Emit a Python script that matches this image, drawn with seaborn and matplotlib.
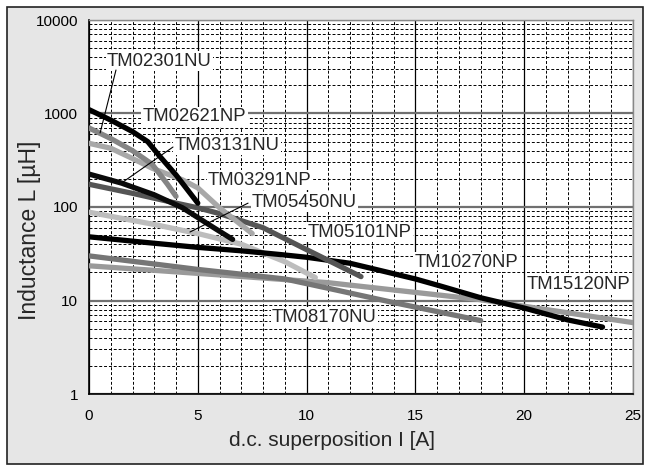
import numpy as np
import pandas as pd
import matplotlib
matplotlib.use("Agg")
import matplotlib.pyplot as plt
from matplotlib.ticker import MultipleLocator, LogLocator, FixedLocator, NullFormatter
from matplotlib.patches import Rectangle
import seaborn as sns

# ---- data ----
tm02621np_i = [0, 1, 2, 2.7, 3.2, 4, 5]
tm02621np_l = [1100, 850, 640, 500, 360, 220, 110]

tm02301nu_i = [0, 1, 2, 2.9, 3.6, 4.0]
tm02301nu_l = [700, 540, 400, 287, 176, 130]

tm03291np_i = [0, 1, 2, 2.9, 4.3, 5, 6, 7.5]
tm03291np_l = [480, 425, 330, 260, 195, 160, 98, 52]

tm03131nu_i = [0, 1.5, 3, 4.3, 5.5, 6.6]
tm03131nu_l = [225, 180, 135, 98, 65, 45]

tm05101np_i = [0, 2, 4, 5, 6, 8, 10, 12.5]
tm05101np_l = [175, 140, 110, 98, 85, 60, 35, 18]

tm05450nu_i = [0, 3, 5, 7, 9, 10.4]
tm05450nu_l = [88, 65, 52, 40, 26, 17.6]

tm10270np_i = [0, 2.5, 5, 7, 8.8, 10, 12, 13, 15, 16.1, 18, 20, 22, 23.6]
tm10270np_l = [48, 42, 37, 34, 31, 29, 25, 22, 17, 14.4, 10.7, 8.3, 6.2, 5.2]

tm08170nu_i = [0, 5, 9, 11, 14, 18]
tm08170nu_l = [30, 21.5, 17, 13.5, 9.5, 6.1]

tm15120np_i = [0, 5, 11, 16, 18, 20.7, 25]
tm15120np_l = [23.5, 19.5, 15.5, 11.5, 10.2, 8.2, 5.8]

series = {
    "TM15120NP": (tm15120np_i, tm15120np_l, "#9a9a9a"),
    "TM08170NU": (tm08170nu_i, tm08170nu_l, "#767676"),
    "TM05450NU": (tm05450nu_i, tm05450nu_l, "#bdbdbd"),
    "TM10270NP": (tm10270np_i, tm10270np_l, "#000000"),
    "TM05101NP": (tm05101np_i, tm05101np_l, "#555555"),
    "TM03131NU": (tm03131nu_i, tm03131nu_l, "#0a0a0a"),
    "TM03291NP": (tm03291np_i, tm03291np_l, "#a8a8a8"),
    "TM02301NU": (tm02301nu_i, tm02301nu_l, "#858585"),
    "TM02621NP": (tm02621np_i, tm02621np_l, "#000000"),
}

x_ticks = [0, 5, 10, 15, 20, 25]
y_ticks = [1, 10, 100, 1000, 10000]
y_ticklabels = ["1", "10", "100", "1000", "10000"]

rows = []
for name, (xs, ys, _) in series.items():
    for xv, yv in zip(xs, ys):
        rows.append({"series": name, "I": xv, "L": yv})
df = pd.DataFrame(rows)
palette = {k: v[2] for k, v in series.items()}

# ---- styling ----
sns.set_style("white")
plt.rcParams["font.family"] = ["Liberation Sans", "DejaVu Sans"]

fig = plt.figure(figsize=(6.55, 4.65), dpi=100)
fig.patch.set_facecolor("white")
fig.patches.append(Rectangle((7 / 655, 1 / 465), 636 / 655, 457 / 465,
                             transform=fig.transFigure, facecolor="#e6e6e6",
                             edgecolor="#222222", linewidth=1.2, zorder=-5))

ax = fig.add_axes([89 / 655, 1 - 394 / 465, 544 / 655, 374 / 465])
ax.set_zorder(2)
ax.set_facecolor("white")

sns.lineplot(data=df, x="I", y="L", hue="series", hue_order=list(series.keys()),
             palette=palette, sort=False, estimator=None, linewidth=3.8,
             legend=False, ax=ax, zorder=3)

ax.set_yscale("log")
ax.set_xlim(0, 25)
ax.set_ylim(1, 10000)

ax.xaxis.set_major_locator(FixedLocator(x_ticks))
ax.xaxis.set_minor_locator(MultipleLocator(1))
ax.yaxis.set_major_locator(FixedLocator(y_ticks))
ax.set_yticklabels(y_ticklabels)
ax.yaxis.set_minor_locator(LogLocator(base=10, subs=np.arange(2, 10)))
ax.yaxis.set_minor_formatter(NullFormatter())

ax.xaxis.grid(True, which="major", color="black", lw=0.9, ls="-")
ax.xaxis.grid(True, which="minor", color="black", lw=0.7, ls=(0, (3, 2)))
ax.yaxis.grid(True, which="major", color="#707070", lw=1.6, ls="-")
ax.yaxis.grid(True, which="minor", color="black", lw=0.7, ls=(0, (3, 2)))
ax.set_axisbelow(True)

ax.tick_params(axis="both", which="both", length=0, labelsize=11, colors="black")
ax.tick_params(axis="x", pad=11)
ax.tick_params(axis="y", pad=8)

for side in ["left", "bottom"]:
    ax.spines[side].set_color("black")
    ax.spines[side].set_linewidth(1.2)
for side in ["top", "right"]:
    ax.spines[side].set_color("#888888")
    ax.spines[side].set_linewidth(1.0)

ax.set_xlabel("d.c. superposition I [A]", fontsize=15)
ax.set_ylabel("Inductance L [µH]", fontsize=16.5)
ax.xaxis.set_label_coords((332 - 89) / 544, (394 - 440) / 374)
ax.yaxis.set_label_coords((30 - 89) / 544, (394 - 230) / 374)
ax.xaxis.label.set_va("center")
ax.yaxis.label.set_va("center")

# ---- curve labels ----
labels = [
    ("TM02301NU", 0.83, 3640),
    ("TM02621NP", 2.48, 918),
    ("TM03131NU", 3.95, 460),
    ("TM03291NP", 5.47, 194),
    ("TM05450NU", 7.49, 113),
    ("TM05101NP", 10.06, 54),
    ("TM10270NP", 14.98, 25.8),
    ("TM15120NP", 20.13, 14.7),
    ("TM08170NU", 8.41, 6.66),
]
for txt, xv, yv in labels:
    ax.text(xv, yv, txt, fontsize=13.3, ha="left", va="center", zorder=4,
            bbox=dict(boxstyle="square,pad=0.08", facecolor="white", edgecolor="none"))

pointers = [
    ((1.24, 2918), (0.51, 619)),
    ((3.86, 438), (1.56, 185)),
    ((7.31, 110), (4.64, 54)),
]
for start, end in pointers:
    ax.annotate("", xy=end, xytext=start,
                arrowprops=dict(arrowstyle="-", color="black", lw=0.8,
                                shrinkA=0, shrinkB=0), zorder=5)

fig.savefig("out.png", dpi=100)
